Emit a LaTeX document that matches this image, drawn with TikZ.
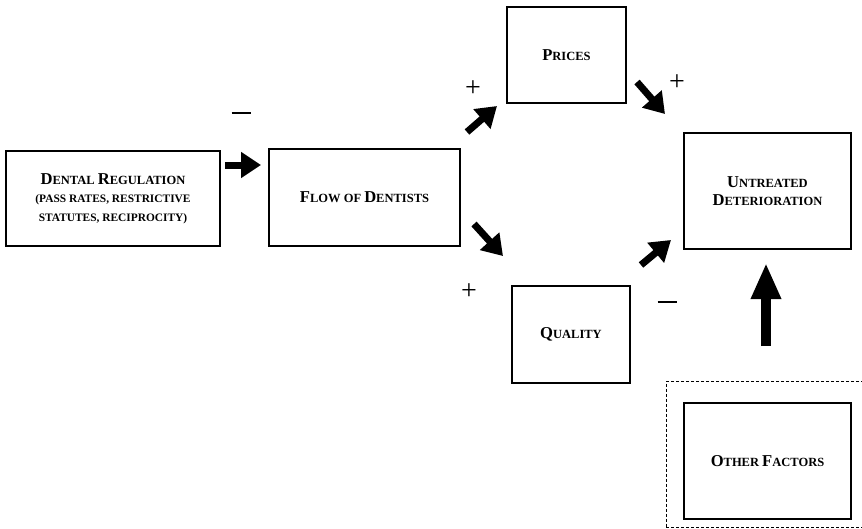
\documentclass[tikz,border=0pt]{standalone}
\usepackage{fontspec}
\setmainfont{Liberation Serif}
\usetikzlibrary{arrows.meta}
\newcommand\bigc[1]{{\fontsize{16.6}{18}\selectfont #1}}
\newcommand\smc[1]{{\fontsize{12.5}{18}\selectfont #1}}
\newcommand\tnc[1]{{\fontsize{11.4}{18}\selectfont #1}}
\tikzset{
  box/.style={draw, line width=1.3pt, inner sep=0pt, align=center, font=\bfseries\fontsize{12.5}{18.5}\selectfont},
  blk/.style={line width=7pt, -{Triangle[length=20pt,width=25pt]}},
  bigblk/.style={line width=9.5pt, -{Triangle[length=36pt,width=28pt]}},
  sign/.style={font=\fontsize{28}{28}\selectfont, inner sep=0pt}
}
\newcommand\minussign{\rule{19pt}{2.6pt}}
\begin{document}
\begin{tikzpicture}[x=1pt,y=-1pt]
\useasboundingbox (0,0) rectangle (862,528);
\node[box, minimum width=214pt, minimum height=95pt] (reg) at (113,198.5)
  {\bigc{D}\smc{ENTAL} \bigc{R}\smc{EGULATION}\\
   \tnc{(PASS RATES, RESTRICTIVE}\\
   \tnc{STATUTES, RECIPROCITY)}};
\node[box, minimum width=191pt, minimum height=97pt] (flow) at (364.5,197.5)
  {\bigc{F}\smc{LOW OF} \bigc{D}\smc{ENTISTS}};
\node[box, minimum width=119pt, minimum height=96pt] (prices) at (566.5,55)
  {\bigc{P}\smc{RICES}};
\node[box, minimum width=167pt, minimum height=116pt] (untr) at (767.5,191)
  {\bigc{U}\smc{NTREATED}\\\bigc{D}\smc{ETERIORATION}};
\node[box, minimum width=118pt, minimum height=97pt] (qual) at (571,334.5)
  {\bigc{Q}\smc{UALITY}};
\node[draw, dashed, dash pattern=on 3pt off 2pt, line width=0.9pt, minimum width=196pt, minimum height=146pt, inner sep=0pt] (dash) at (764,454.5) {};
\node[box, minimum width=167pt, minimum height=116pt] (other) at (767.5,461)
  {\bigc{O}\smc{THER} \bigc{F}\smc{ACTORS}};
% arrow end points
\coordinate (a1s) at (225,165); \coordinate (a1e) at (261,165);
\coordinate (a2s) at (467,132); \coordinate (a2e) at (497,106);
\coordinate (a3s) at (637,82);  \coordinate (a3e) at (665,114);
\coordinate (a4s) at (474,224); \coordinate (a4e) at (503,256);
\coordinate (a5s) at (641,265); \coordinate (a5e) at (671,240);
\coordinate (a6s) at (766,346); \coordinate (a6e) at (766,263);
\draw[blk] (a1s) -- (a1e);
\draw[blk] (a2s) -- (a2e);
\draw[blk] (a3s) -- (a3e);
\draw[blk] (a4s) -- (a4e);
\draw[blk] (a5s) -- (a5e);
\draw[bigblk] (a6s) -- (a6e);
% signs
\node[sign] (s1) at (241,113) {\minussign};
\node[sign] (s2) at (473,89) {+};
\node[sign] (s3) at (677,83) {+};
\node[sign] (s4) at (469,292) {+};
\node[sign] (s5) at (667,302) {\minussign};
\end{tikzpicture}
\end{document}
